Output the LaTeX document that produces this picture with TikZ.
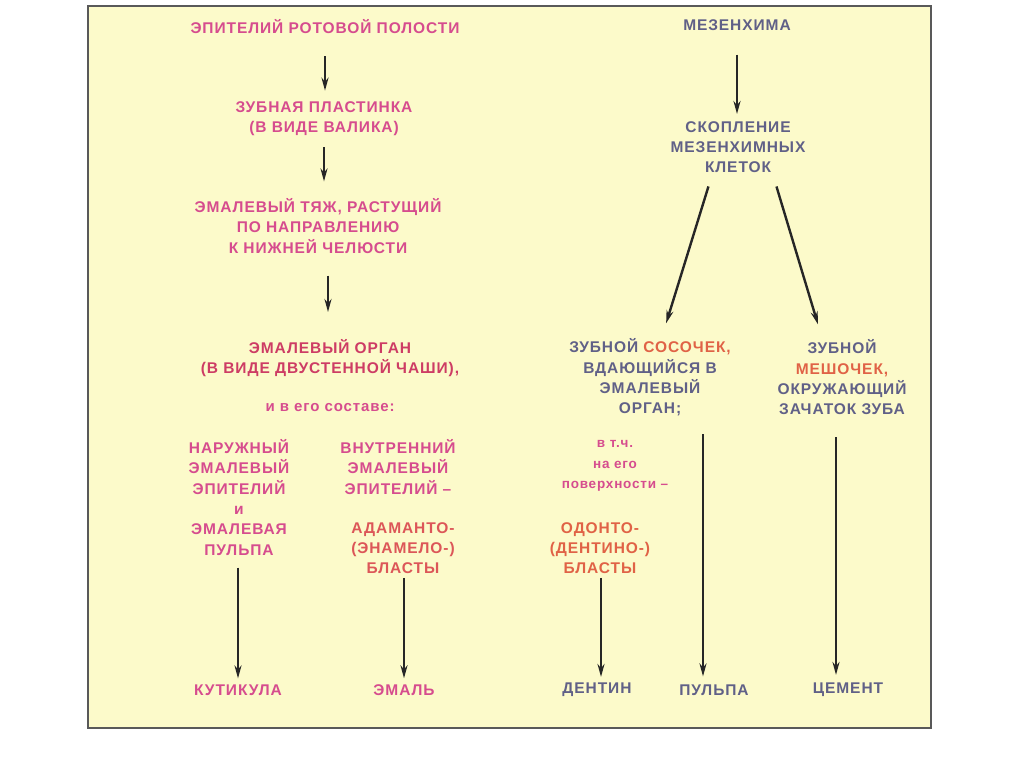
\documentclass[tikz,border=0pt]{standalone}
\usepackage{fontspec}
\setmainfont{Liberation Sans}
\newfontfamily\dfont[LetterSpace=6]{Liberation Sans}
\usetikzlibrary{arrows.meta}
\definecolor{bg}{RGB}{252,250,202}
\definecolor{pnk}{RGB}{214,76,142}
\definecolor{crim}{RGB}{205,60,100}
\definecolor{slate}{RGB}{96,96,135}
\definecolor{orng}{RGB}{224,98,70}
\definecolor{orpk}{RGB}{220,86,88}
\begin{document}
\begin{tikzpicture}[x=1pt,y=-1pt,
  txt/.style={font=\dfont\bfseries\fontsize{15.5}{20.3}\selectfont, align=center, inner sep=2pt},
  sml/.style={font=\dfont\bfseries\fontsize{15}{20.3}\selectfont, align=center, inner sep=2pt},
  arr/.style={-{Stealth[length=13pt,width=7pt]}, line width=2.4pt, draw=black!85}]
\useasboundingbox (0,0) rectangle (1024,768);
\draw[fill=bg, draw=black!65, line width=1.6pt] (88,6) rectangle (931,728);

% left branch
\node[txt, text=pnk] (n1) at (325,27) {ЭПИТЕЛИЙ РОТОВОЙ ПОЛОСТИ};
\node[txt, text=pnk] (n2) at (324,119) {ЗУБНАЯ ПЛАСТИНКА\\(В ВИДЕ ВАЛИКА)};
\node[txt, text=pnk] (n3) at (318,226) {ЭМАЛЕВЫЙ ТЯЖ, РАСТУЩИЙ\\ПО НАПРАВЛЕНИЮ\\К НИЖНЕЙ ЧЕЛЮСТИ};
\node[txt, text=crim] (n4) at (330,358) {ЭМАЛЕВЫЙ ОРГАН\\(В ВИДЕ ДВУСТЕННОЙ ЧАШИ),};
\node[sml, text=pnk] (n5) at (330,408) {и в его составе:};
\node[txt, text=pnk] (n6) at (239,497.5) {НАРУЖНЫЙ\\ЭМАЛЕВЫЙ\\ЭПИТЕЛИЙ\\и\\ЭМАЛЕВАЯ\\ПУЛЬПА};
\node[txt, text=pnk] (n7) at (398,467) {ВНУТРЕННИЙ\\ЭМАЛЕВЫЙ\\ЭПИТЕЛИЙ –};
\node[txt, text=orpk] (n8) at (403,548) {АДАМАНТО-\\(ЭНАМЕЛО-)\\БЛАСТЫ};
\node[txt, text=pnk] (k1) at (238,690) {КУТИКУЛА};
\node[txt, text=pnk] (k2) at (404,690) {ЭМАЛЬ};

% right branch
\node[txt, text=slate] (m1) at (737,25) {МЕЗЕНХИМА};
\node[txt, text=slate] (m2) at (738,147) {СКОПЛЕНИЕ\\МЕЗЕНХИМНЫХ\\КЛЕТОК};
\node[txt, text=slate] (m3) at (650,377.5) {ЗУБНОЙ \textcolor{orng}{СОСОЧЕК,}\\ВДАЮЩИЙСЯ  В\\ЭМАЛЕВЫЙ\\ОРГАН;};
\node[txt, text=slate] (m4) at (842,377.5) {ЗУБНОЙ\\\textcolor{orng}{МЕШОЧЕК,}\\ОКРУЖАЮЩИЙ\\ЗАЧАТОК  ЗУБА};
\node[sml, text=pnk, font=\dfont\bfseries\fontsize{13.5}{20.3}\selectfont] (m5) at (615,466) {в т.ч.\\на его\\поверхности –};
\node[txt, text=orng] (m6) at (600,548) {ОДОНТО-\\(ДЕНТИНО-)\\БЛАСТЫ};
\node[txt, text=slate] (d1) at (597,690) {ДЕНТИН};
\node[txt, text=slate] (d2) at (714,690) {ПУЛЬПА};
\node[txt, text=slate] (d3) at (848,690) {ЦЕМЕНТ};

% arrows left
\draw[arr, shorten <=20pt, shorten >=9pt] (n1.south) -- (n1.south |- n2.north);
\draw[arr, shorten <=9pt, shorten >=15pt] (n2.south) -- (n2.south |- n3.north);
\draw[arr, shorten <=20pt, shorten >=25pt] ([xshift=-2pt]n3.south -| n4.north) -- ([xshift=-2pt]n4.north);
\draw[arr, shorten <=10pt, shorten >=4pt] (n6.south -| k1.north) -- (k1.north);
\draw[arr, shorten <=2pt, shorten >=4pt] (n8.south -| k2.north) -- (k2.north);

% arrows right
\draw[arr, shorten <=22pt, shorten >=5pt] (m1.south) -- (m1.south |- m2.north);
\draw[arr, shorten <=12pt, shorten >=14pt] ([xshift=-26pt]m2.south) -- ([xshift=12pt]m3.north);
\draw[arr, shorten <=12pt, shorten >=14pt] ([xshift=35pt]m2.south) -- ([xshift=-20pt]m4.north);
\draw[arr, shorten <=2pt, shorten >=4pt] ([xshift=4pt]m6.south -| d1.north) -- ([xshift=4pt]d1.north);
\draw[arr, shorten <=16pt, shorten >=6pt] ([xshift=53pt]m3.south) -- ([xshift=53pt]m3.south |- d2.north);
\draw[arr, shorten <=20pt, shorten >=6pt] ([xshift=-6pt]m4.south) -- ([xshift=-6pt]m4.south |- d3.north);
\end{tikzpicture}
\end{document}
